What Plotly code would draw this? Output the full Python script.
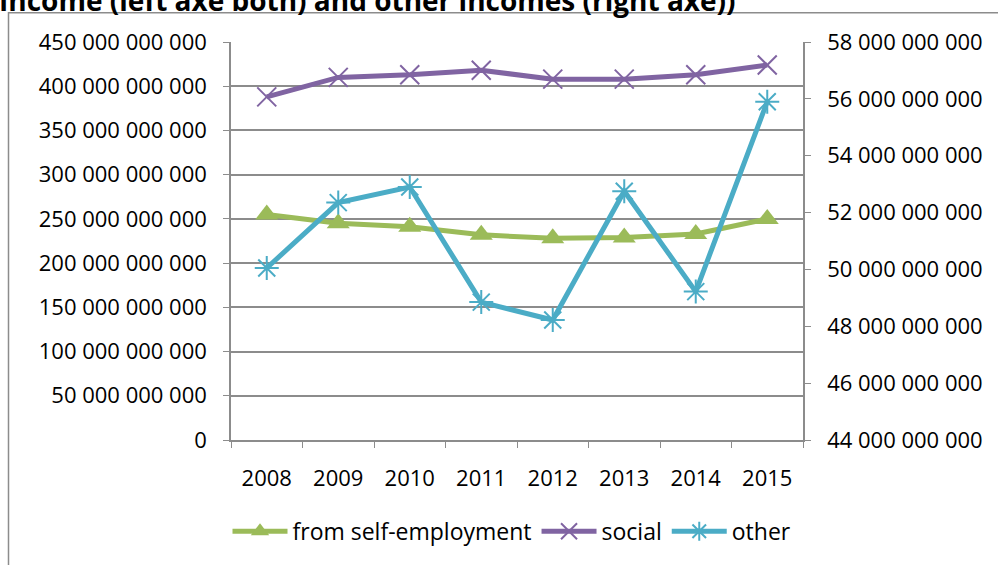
import plotly.graph_objects as go

years = ["2008", "2009", "2010", "2011", "2012", "2013", "2014", "2015"]
self_employment = [255e9, 245e9, 241e9, 232e9, 228e9, 229e9, 233e9, 250e9]
social = [388e9, 410e9, 413e9, 418e9, 408e9, 408e9, 413e9, 424e9]
other = [50.05e9, 52.35e9, 52.9e9, 48.85e9, 48.22e9, 52.75e9, 49.22e9, 55.9e9]

left_tickvals = [i * 50e9 for i in range(10)]
left_ticktext = ["0", "50 000 000 000", "100 000 000 000", "150 000 000 000",
                 "200 000 000 000", "250 000 000 000", "300 000 000 000",
                 "350 000 000 000", "400 000 000 000", "450 000 000 000"]
right_tickvals = [44e9 + i * 2e9 for i in range(8)]
right_ticktext = ["44 000 000 000", "46 000 000 000", "48 000 000 000",
                  "50 000 000 000", "52 000 000 000", "54 000 000 000",
                  "56 000 000 000", "58 000 000 000"]

title_text = "Income (left axe both) and other incomes (right axe))"

GREEN = "#9BBB59"
PURPLE = "#8064A2"
BLUE = "#4BACC6"
GRID = "#8C8C8C"
FONT = "Open Sans"
FS = 22

fig = go.Figure()
fig.add_trace(go.Scatter(
    x=years, y=self_employment, name="from self-employment", mode="lines+markers",
    line=dict(color=GREEN, width=5),
    marker=dict(symbol="triangle-up", size=20, color=GREEN),
))
fig.add_trace(go.Scatter(
    x=years, y=social, name="social", mode="lines+markers",
    line=dict(color=PURPLE, width=5),
    marker=dict(symbol="x-thin", size=19, color=PURPLE, line=dict(color=PURPLE, width=2)),
))
fig.add_trace(go.Scatter(
    x=years, y=other, name="other", mode="lines+markers", yaxis="y2",
    line=dict(color=BLUE, width=5),
    marker=dict(symbol="asterisk", size=20, color=BLUE, line=dict(color=BLUE, width=2)),
))

L, R, T, B = 231, 195, 42, 122
W, H = 998, 565
pw, ph = W - L - R, H - T - B

def px_x(px):
    return (px - L) / pw

def px_y(py):
    return (H - B - py) / ph

fig.update_layout(
    width=W, height=H,
    margin=dict(l=L, r=R, t=T, b=B, pad=0),
    paper_bgcolor="white", plot_bgcolor="white",
    font=dict(family=FONT, size=FS, color="black"),
    showlegend=True,
    legend=dict(
        orientation="h", x=px_x(512), xanchor="center", y=px_y(535), yanchor="middle",
        font=dict(family=FONT, size=23, color="black"), bgcolor="rgba(0,0,0,0)",
        tracegroupgap=0, itemwidth=55,
    ),
    xaxis=dict(
        type="category", showgrid=False, showline=True, linecolor=GRID, linewidth=1.5,
        ticks="outside", ticklen=6, tickcolor=GRID, tickson="boundaries",
        ticklabelstandoff=18, tickfont=dict(family=FONT, size=FS), range=[-0.5, 7.5],
    ),
    yaxis=dict(
        range=[0, 450e9], tickvals=left_tickvals, ticktext=left_ticktext,
        showgrid=True, gridcolor=GRID, gridwidth=1.5, zeroline=False,
        showline=True, linecolor=GRID, linewidth=1.5,
        ticks="outside", ticklen=6, tickcolor=GRID, ticklabelstandoff=12,
        tickfont=dict(family=FONT, size=FS),
    ),
    yaxis2=dict(
        range=[44e9, 58e9], tickvals=right_tickvals, ticktext=right_ticktext,
        overlaying="y", side="right", showgrid=False, zeroline=False,
        showline=True, linecolor=GRID, linewidth=1.5,
        ticks="outside", ticklen=6, tickcolor=GRID, ticklabelstandoff=12,
        tickfont=dict(family=FONT, size=FS),
    ),
    shapes=[dict(
        type="rect", xref="paper", yref="paper",
        x0=px_x(8.5), x1=px_x(1100), y0=px_y(12.5), y1=px_y(700),
        line=dict(color=GRID, width=1.5), fillcolor="rgba(0,0,0,0)", layer="below",
    )],
    annotations=[dict(
        text="<b>" + title_text + "</b>", xref="paper", yref="paper",
        x=px_x(-3), xanchor="left", y=px_y(0), yanchor="middle", showarrow=False,
        font=dict(family=FONT, size=28, color="black"),
    )],
)

fig.write_html("out.html")
